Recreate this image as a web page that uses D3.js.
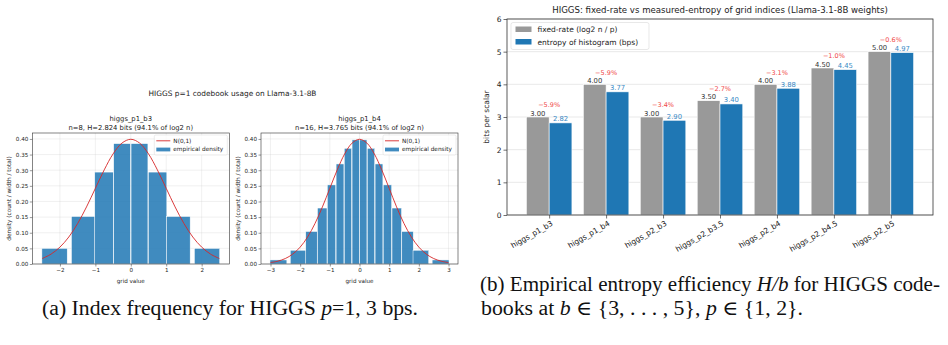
<!DOCTYPE html>
<html>
<head>
<meta charset="utf-8">
<script src="https://cdn.jsdelivr.net/npm/d3@7"></script>
<style>
  body { margin: 0; background: #fff; }
  text { font-family: "DejaVu Sans", sans-serif; }
  .cap { font-family: "Liberation Serif", "DejaVu Serif", serif; fill: #111; }
</style>
</head>
<body>
<div id="chart"></div>
<script>
// ---- data: histogram of grid indices (density = count / width / total)
const b3Grid = [-2.152, -1.344, -0.756, -0.245, 0.245, 0.756, 1.344, 2.152]
const b3Width = [0.752, 0.698, 0.549, 0.501, 0.501, 0.549, 0.698, 0.752]
const b3Density = [0.050, 0.152, 0.294, 0.385, 0.385, 0.294, 0.152, 0.050]

const b4Grid = [-2.733, -2.069, -1.618, -1.256, -0.942, -0.657, -0.388, -0.128,
                0.128, 0.388, 0.657, 0.942, 1.256, 1.618, 2.069, 2.733]
const b4Width = [0.599, 0.557, 0.406, 0.338, 0.300, 0.277, 0.264, 0.258,
                 0.258, 0.264, 0.277, 0.300, 0.338, 0.406, 0.557, 0.599]
const b4Density = [0.013, 0.044, 0.104, 0.179, 0.253, 0.320, 0.370, 0.397,
                   0.397, 0.370, 0.320, 0.253, 0.179, 0.104, 0.044, 0.013]

// N(0,1) reference curve, sampled
const pdfX = [-3, -2.75, -2.5, -2.25, -2, -1.75, -1.5, -1.25, -1, -0.75, -0.5, -0.25, 0,
              0.25, 0.5, 0.75, 1, 1.25, 1.5, 1.75, 2, 2.25, 2.5, 2.75, 3]
const pdfY = [0.0044, 0.0091, 0.0175, 0.0317, 0.0540, 0.0863, 0.1295, 0.1826, 0.2420, 0.3011, 0.3521, 0.3867, 0.3989,
              0.3867, 0.3521, 0.3011, 0.2420, 0.1826, 0.1295, 0.0863, 0.0540, 0.0317, 0.0175, 0.0091, 0.0044]

// ---- data: fixed-rate vs entropy
const codebooks = ['higgs_p1_b3', 'higgs_p1_b4', 'higgs_p2_b3', 'higgs_p2_b3.5', 'higgs_p2_b4', 'higgs_p2_b4.5', 'higgs_p2_b5']
const fixedRate = [3.00, 4.00, 3.00, 3.50, 4.00, 4.50, 5.00]
const entropyBps = [2.82, 3.77, 2.90, 3.40, 3.88, 4.45, 4.97]
const gapPct = ['−5.9%', '−5.9%', '−3.4%', '−2.7%', '−3.1%', '−1.0%', '−0.6%']

const W = 948, H = 345
const svg = d3.select('#chart').append('svg')
    .attr('width', W).attr('height', H)
    .style('background', '#fff')

const fmt2 = d3.format('.2f')
const minus = s => String(s).replace('-', '−')

// ---------- left: two histogram panels ----------
function histPanel(p) {
    const x = d3.scaleLinear().domain(p.xDomain).range([p.left, p.right])
    const y = d3.scaleLinear().domain([0, 0.419]).range([p.bottom, p.top])
    const g = svg.append('g')
    const yTicks = d3.range(0, 0.401, 0.05)

    // grid
    g.append('g').selectAll('line').data(p.xTicks).join('line')
        .attr('x1', d => x(d)).attr('x2', d => x(d))
        .attr('y1', p.top).attr('y2', p.bottom)
        .attr('stroke', '#c8c8c8').attr('stroke-opacity', 0.5).attr('stroke-width', 0.5)
    g.append('g').selectAll('line').data(yTicks).join('line')
        .attr('x1', p.left).attr('x2', p.right)
        .attr('y1', d => y(d)).attr('y2', d => y(d))
        .attr('stroke', '#c8c8c8').attr('stroke-opacity', 0.5).attr('stroke-width', 0.5)

    // bars, drawn at 95% of cell width
    g.append('g').selectAll('rect').data(p.grid).join('rect')
        .attr('x', (d, i) => x(d - p.width[i] * 0.95 / 2))
        .attr('width', (d, i) => x(d + p.width[i] * 0.95 / 2) - x(d - p.width[i] * 0.95 / 2))
        .attr('y', (d, i) => y(p.density[i]))
        .attr('height', (d, i) => y(0) - y(p.density[i]))
        .attr('fill', '#1f77b4').attr('fill-opacity', 0.85)
        .attr('stroke', '#fff').attr('stroke-width', 0.5)

    // normal curve
    const pts = pdfX.map((v, i) => [v, pdfY[i]]).filter(d => d[0] >= p.curveRange[0] && d[0] <= p.curveRange[1])
    g.append('path')
        .datum(pts)
        .attr('d', d3.line().x(d => x(d[0])).y(d => y(d[1])).curve(d3.curveCatmullRom))
        .attr('fill', 'none').attr('stroke', '#d62728').attr('stroke-width', 0.9)

    // axes
    const xAxis = g.append('g').attr('transform', `translate(0,${p.bottom})`)
        .call(d3.axisBottom(x).tickValues(p.xTicks).tickSize(2.5).tickPadding(1.5).tickFormat(d => minus(d)))
    const yAxis = g.append('g').attr('transform', `translate(${p.left},0)`)
        .call(d3.axisLeft(y).tickValues(yTicks).tickSize(2.5).tickPadding(1.5).tickFormat(fmt2))
    ;[xAxis, yAxis].forEach(a => {
        a.select('.domain').remove()
        a.selectAll('line').attr('stroke', '#333').attr('stroke-width', 0.5)
        a.selectAll('text').attr('font-size', 5.6).attr('fill', '#222')
            .style('font-family', '"DejaVu Sans", sans-serif')
    })
    g.append('rect')
        .attr('x', p.left).attr('y', p.top)
        .attr('width', p.right - p.left).attr('height', p.bottom - p.top)
        .attr('fill', 'none').attr('stroke', '#333').attr('stroke-width', 0.6)

    // labels
    g.append('text').attr('x', (p.left + p.right) / 2).attr('y', 283)
        .attr('text-anchor', 'middle').attr('font-size', 5.6).attr('fill', '#222').text('grid value')
    g.append('text').attr('transform', `translate(${p.left - 21},${(p.top + p.bottom) / 2}) rotate(-90)`)
        .attr('text-anchor', 'middle').attr('font-size', 5.8).attr('fill', '#222')
        .text('density (count / width / total)')
    g.append('text').attr('x', (p.left + p.right) / 2).attr('y', 121)
        .attr('text-anchor', 'middle').attr('font-size', 6.8).attr('fill', '#222').text(p.name)
    g.append('text').attr('x', (p.left + p.right) / 2).attr('y', 129.5)
        .attr('text-anchor', 'middle').attr('font-size', 6.8).attr('fill', '#222').text(p.subtitle)

    // legend
    const lx = p.right - 75, ly = p.top + 2
    const lg = g.append('g')
    lg.append('rect').attr('x', lx).attr('y', ly).attr('width', 73).attr('height', 20)
        .attr('rx', 1.5).attr('fill', '#fff').attr('fill-opacity', 0.8)
        .attr('stroke', '#d8d8d8').attr('stroke-width', 0.5)
    lg.append('line').attr('x1', lx + 2).attr('x2', lx + 16).attr('y1', ly + 5.8).attr('y2', ly + 5.8)
        .attr('stroke', '#d62728').attr('stroke-width', 0.9)
    lg.append('rect').attr('x', lx + 2).attr('y', ly + 12.6).attr('width', 14).attr('height', 3.8)
        .attr('fill', '#1f77b4').attr('fill-opacity', 0.85)
    lg.append('text').attr('x', lx + 19).attr('y', ly + 7.8).attr('font-size', 5.8).attr('fill', '#222').text('N(0,1)')
    lg.append('text').attr('x', lx + 19).attr('y', ly + 16.4).attr('font-size', 5.8).attr('fill', '#222').text('empirical density')
}

svg.append('text').attr('x', 232.5).attr('y', 95.5).attr('text-anchor', 'middle')
    .attr('font-size', 7.4).attr('fill', '#222').text('HIGGS p=1 codebook usage on Llama-3.1-8B')

histPanel({
    name: 'higgs_p1_b3', subtitle: 'n=8, H=2.824 bits (94.1% of log2 n)',
    grid: b3Grid, width: b3Width, density: b3Density,
    xDomain: [-2.78, 2.78], xTicks: [-2, -1, 0, 1, 2], curveRange: [-2.5, 2.5],
    left: 32.3, right: 229.3, top: 133, bottom: 264
})
histPanel({
    name: 'higgs_p1_b4', subtitle: 'n=16, H=3.765 bits (94.1% of log2 n)',
    grid: b4Grid, width: b4Width, density: b4Density,
    xDomain: [-3.32, 3.32], xTicks: [-3, -2, -1, 0, 1, 2, 3], curveRange: [-3, 3],
    left: 261, right: 458, top: 133, bottom: 264
})

// ---------- right: grouped bars ----------
const R = { left: 507, right: 933, top: 19, bottom: 215 }
const xr = d3.scaleLinear().domain([-0.74, codebooks.length - 1 + 0.74]).range([R.left, R.right])
const yr = d3.scaleLinear().domain([0, 6]).range([R.bottom, R.top])
const barW = 0.4
const rg = svg.append('g')

rg.append('g').selectAll('line').data(d3.range(0, 7)).join('line')
    .attr('x1', R.left).attr('x2', R.right)
    .attr('y1', d => yr(d)).attr('y2', d => yr(d))
    .attr('stroke', '#c8c8c8').attr('stroke-opacity', 0.5).attr('stroke-width', 0.8)

rg.append('g').selectAll('rect').data(fixedRate).join('rect')
    .attr('x', (d, i) => xr(i - barW)).attr('width', xr(barW) - xr(0))
    .attr('y', d => yr(d)).attr('height', d => yr(0) - yr(d))
    .attr('fill', '#999999').attr('stroke', '#fff').attr('stroke-width', 0.6)
rg.append('g').selectAll('rect').data(entropyBps).join('rect')
    .attr('x', (d, i) => xr(i)).attr('width', xr(barW) - xr(0))
    .attr('y', d => yr(d)).attr('height', d => yr(0) - yr(d))
    .attr('fill', '#1f77b4').attr('stroke', '#fff').attr('stroke-width', 0.6)

// value labels
rg.append('g').selectAll('text').data(fixedRate).join('text')
    .attr('x', (d, i) => xr(i - barW / 2)).attr('y', d => yr(d) - 1.5)
    .attr('text-anchor', 'middle').attr('font-size', 6.8).attr('fill', '#333')
    .text(d => fmt2(d))
rg.append('g').selectAll('text').data(entropyBps).join('text')
    .attr('x', (d, i) => xr(i + barW / 2)).attr('y', d => yr(d) - 1.5)
    .attr('text-anchor', 'middle').attr('font-size', 6.8).attr('fill', '#3b8bc6')
    .text(d => fmt2(d))
rg.append('g').selectAll('text').data(gapPct).join('text')
    .attr('x', (d, i) => xr(i)).attr('y', (d, i) => yr(fixedRate[i] + 0.3))
    .attr('text-anchor', 'middle').attr('font-size', 6.5).attr('fill', '#f04848')
    .text(d => d)

// axes
const xAx = rg.append('g').attr('transform', `translate(0,${R.bottom})`)
    .call(d3.axisBottom(xr).tickValues(d3.range(codebooks.length)).tickSize(3.5).tickFormat(''))
const yAx = rg.append('g').attr('transform', `translate(${R.left},0)`)
    .call(d3.axisLeft(yr).ticks(6).tickSize(3.5).tickPadding(2))
;[xAx, yAx].forEach(a => {
    a.select('.domain').remove()
    a.selectAll('line').attr('stroke', '#333').attr('stroke-width', 0.7)
    a.selectAll('text').attr('font-size', 7.5).attr('fill', '#222')
        .style('font-family', '"DejaVu Sans", sans-serif')
})
rg.append('g').selectAll('text').data(codebooks).join('text')
    .attr('transform', (d, i) => `translate(${xr(i) + 2},${R.bottom + 6}) rotate(-30)`)
    .attr('text-anchor', 'end').attr('dy', '0.6em')
    .attr('font-size', 7.5).attr('fill', '#222').text(d => d)
rg.append('rect')
    .attr('x', R.left).attr('y', R.top).attr('width', R.right - R.left).attr('height', R.bottom - R.top)
    .attr('fill', 'none').attr('stroke', '#333').attr('stroke-width', 0.8)

rg.append('text').attr('x', (R.left + R.right) / 2).attr('y', 13)
    .attr('text-anchor', 'middle').attr('font-size', 8.6).attr('fill', '#222')
    .text('HIGGS: fixed-rate vs measured-entropy of grid indices (Llama-3.1-8B weights)')
rg.append('text').attr('transform', `translate(489,${(R.top + R.bottom) / 2}) rotate(-90)`)
    .attr('text-anchor', 'middle').attr('font-size', 7.5).attr('fill', '#222').text('bits per scalar')

// legend
const leg = rg.append('g')
leg.append('rect').attr('x', 511).attr('y', 22.5).attr('width', 138).attr('height', 27)
    .attr('rx', 2).attr('fill', '#fff').attr('fill-opacity', 0.8)
    .attr('stroke', '#d8d8d8').attr('stroke-width', 0.6)
;[['fixed-rate (log2 n / p)', '#999999'], ['entropy of histogram (bps)', '#1f77b4']].forEach((e, i) => {
    leg.append('rect').attr('x', 515.5).attr('y', 26.5 + i * 12.5).attr('width', 16).attr('height', 5.5).attr('fill', e[1])
    leg.append('text').attr('x', 537.5).attr('y', 32 + i * 12.5).attr('font-size', 7.5).attr('fill', '#222').text(e[0])
})

// ---------- captions ----------
const capA = svg.append('text').attr('class', 'cap').attr('x', 42).attr('y', 315).attr('font-size', 20)
    .attr('textLength', 376).attr('lengthAdjust', 'spacingAndGlyphs')
capA.append('tspan').text('(a) Index frequency for HIGGS ')
capA.append('tspan').attr('font-style', 'italic').text('p')
capA.append('tspan').text('=1, 3 bps.')

const capB1 = svg.append('text').attr('class', 'cap').attr('x', 480).attr('y', 291).attr('font-size', 20)
    .attr('textLength', 460).attr('lengthAdjust', 'spacingAndGlyphs')
capB1.append('tspan').text('(b) Empirical entropy efficiency ')
capB1.append('tspan').attr('font-style', 'italic').text('H/b')
capB1.append('tspan').text(' for HIGGS code-')

const capB2 = svg.append('text').attr('class', 'cap').attr('x', 481).attr('y', 315).attr('font-size', 20)
    .attr('textLength', 322).attr('lengthAdjust', 'spacingAndGlyphs')
capB2.append('tspan').text('books at ')
capB2.append('tspan').attr('font-style', 'italic').text('b')
capB2.append('tspan').text(' ∈ {3, . . . , 5}, ')
capB2.append('tspan').attr('font-style', 'italic').text('p')
capB2.append('tspan').text(' ∈ {1, 2}.')
</script>
</body>
</html>
